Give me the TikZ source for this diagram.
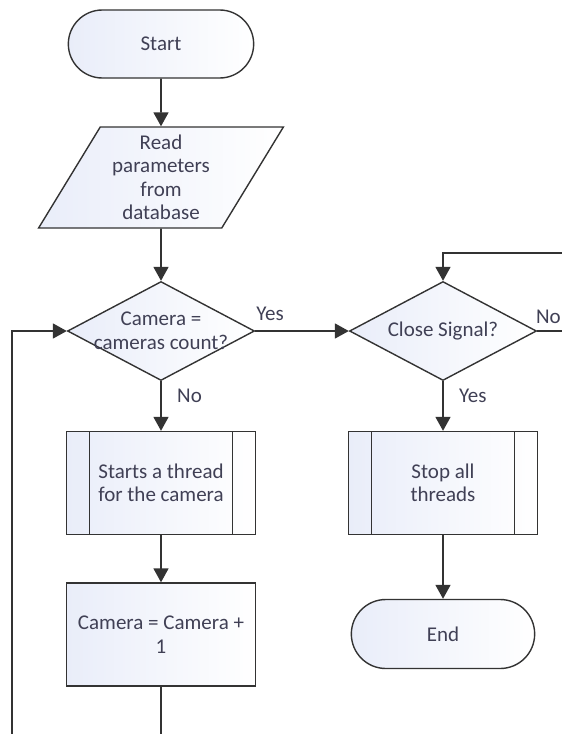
\documentclass[tikz,border=0pt]{standalone}
\usepackage{fontspec}
\setmainfont{Carlito}
\usepackage{tikz}
\usetikzlibrary{positioning}
\usetikzlibrary{shapes.misc}
\usetikzlibrary{shapes.geometric}
\usetikzlibrary{arrows.meta}

\definecolor{linegray}{HTML}{333333}
\definecolor{textgray}{HTML}{404055}
\definecolor{fillblue}{HTML}{E9EDF9}

\tikzset{
  txt/.style={text=textgray, font=\fontsize{21}{23.5}\selectfont, align=center},
  box/.style={txt, draw=linegray, line width=1.4pt, left color=fillblue, right color=white},
  term/.style={box, rounded rectangle, minimum width=192pt, minimum height=68pt},
  io/.style={box, trapezium, trapezium left angle=60, trapezium right angle=120,
    trapezium stretches=true, minimum width=245pt, minimum height=101pt, inner sep=2pt},
  decision/.style={box, diamond, minimum width=187pt, minimum height=99pt, inner sep=0pt},
  process/.style={box, rectangle, minimum width=189pt, minimum height=103pt},
  subproc/.style={process, path picture={
    \draw[linegray, line width=1.4pt]
      ([xshift=23pt]path picture bounding box.north west) -- ([xshift=23pt]path picture bounding box.south west)
      ([xshift=-23pt]path picture bounding box.north east) -- ([xshift=-23pt]path picture bounding box.south east);
  }},
  flow/.style={draw=linegray, line width=1.8pt}
}

\begin{document}
\begin{tikzpicture}[x=1pt, y=-1pt, >={Triangle[length=14pt,width=15pt]}]

\useasboundingbox (0,0) rectangle (562,734);

% Camera loop
\node[term] (start) at (161,44) {Start};
\node[io] (read) at (161,177.5) {Read\\parameters\\from\\database};
\node[decision, label={[txt]center:{Camera =\\cameras count?}}] (cam) at (161,331) {};
\node[subproc] (thread) at (161,483) {Starts a thread\\for the camera};
\node[process] (incr) at (161,634.5) {Camera = Camera +\\1};

% Close loop
\node[decision, label={[txt]center:{Close Signal?}}] (sig) at (443,331) {};
\node[subproc] (stop) at (443,483) {Stop all\\threads};
\node[term, minimum width=190pt, minimum height=69pt] (end) at (443,634) {End};

% Loose ends
\coordinate (incrout) at (161,734);
\coordinate (loopin) at (12,734);
\coordinate (sigout) at (562,331);
\coordinate (sigback) at (562,253);

% Connections
\draw[flow, ->] (start) -- (read);
\draw[flow, ->] (read) -- (cam);
\draw[flow, ->] (cam) -- (thread) node[txt, pos=0.3, right=12pt] {No};
\draw[flow, ->] (thread) -- (incr);
\draw[flow] (incr) -- (incrout);
\draw[flow, ->] (loopin) |- (cam.west);
\draw[flow, ->] (cam.east) -- (sig.west) node[txt, pos=0.16, above=6pt] {Yes};
\draw[flow] (sig.east) -- (sigout) node[txt, pos=0.45, above=3pt] {No};
\draw[flow, ->] (sigback) -| (sig.north);
\draw[flow, ->] (sig) -- (stop) node[txt, pos=0.3, right=12pt] {Yes};
\draw[flow, ->] (stop) -- (end);

\end{tikzpicture}
\end{document}
